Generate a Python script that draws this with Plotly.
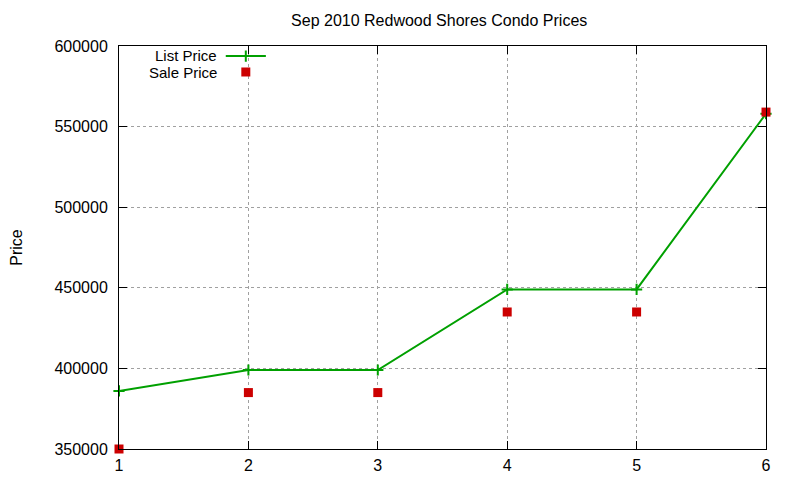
import plotly.graph_objects as go

# data
list_x = [1, 2, 3, 4, 5, 6]
list_price = [386000, 399000, 399000, 449000, 449000, 558000]

sale_x = [1, 2, 3, 4, 5, 6]
sale_price = [350000, 385000, 385000, 435000, 435000, 559000]

y_ticks = [350000, 400000, 450000, 500000, 550000, 600000]

GREEN = '#00a000'
RED = '#cc0000'
FONT = 'Liberation Sans, Arial, sans-serif'

fig = go.Figure()

fig.add_trace(go.Scatter(
    x=list_x, y=list_price, mode='lines+markers', name='List Price',
    line=dict(color=GREEN, width=2),
    marker=dict(symbol='cross-thin', size=8, line=dict(color=GREEN, width=2)),
    cliponaxis=False, showlegend=False,
))
fig.add_trace(go.Scatter(
    x=sale_x, y=sale_price, mode='markers', name='Sale Price',
    marker=dict(symbol='square', size=9, color=RED),
    cliponaxis=False, showlegend=False,
))

# gnuplot style key: text on the left, sample on the right
fig.add_trace(go.Scatter(
    x=[0.165, 0.196, 0.227], y=[0.975, 0.975, 0.975], xaxis='x2', yaxis='y2',
    mode='lines', line=dict(color=GREEN, width=2), hoverinfo='skip', showlegend=False,
))
fig.add_trace(go.Scatter(
    x=[0.196], y=[0.975], xaxis='x2', yaxis='y2', mode='markers',
    marker=dict(symbol='cross-thin', size=8, line=dict(color=GREEN, width=2)),
    hoverinfo='skip', showlegend=False,
))
fig.add_trace(go.Scatter(
    x=[0.196], y=[0.9355], xaxis='x2', yaxis='y2', mode='markers',
    marker=dict(symbol='square', size=9, color=RED),
    hoverinfo='skip', showlegend=False,
))
for label, yy in [('List Price', 0.976), ('Sale Price', 0.9345)]:
    fig.add_annotation(x=0.155, y=yy, xref='paper', yref='paper', text=label,
                       showarrow=False, xanchor='right', yanchor='middle',
                       font=dict(size=15, color='black', family=FONT))

axis_common = dict(
    showline=True, linecolor='black', linewidth=1, mirror='ticks',
    ticks='inside', ticklen=8, tickcolor='black',
    showgrid=True, gridcolor='#a0a0a0', griddash='dot', gridwidth=1,
    zeroline=False, automargin=False,
    tickfont=dict(size=16, color='black', family=FONT),
)

fig.update_layout(
    width=800, height=480,
    paper_bgcolor='white', plot_bgcolor='white',
    margin=dict(l=111, r=42, t=38, b=39),
    font=dict(family=FONT, size=16, color='black'),
    title=dict(text='Sep 2010 Redwood Shores Condo Prices', x=0.539, xanchor='center',
               y=0.975, yanchor='middle', font=dict(size=16, color='black', family=FONT)),
    xaxis=dict(range=[1, 6], tickvals=list_x, ticklabelstandoff=2, **axis_common),
    yaxis=dict(range=[350000, 600000], tickvals=y_ticks, ticktext=[str(v) for v in y_ticks],
               ticklabelstandoff=7,
               title=dict(text='Price', standoff=34, font=dict(size=16)), **axis_common),
    xaxis2=dict(range=[0, 1], overlaying='x', visible=False, fixedrange=True),
    yaxis2=dict(range=[0, 1], overlaying='y', visible=False, fixedrange=True),
    showlegend=False,
)

fig.write_html('out.html')
